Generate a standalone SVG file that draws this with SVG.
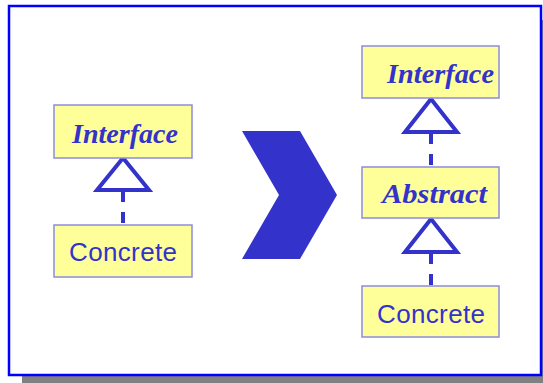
<svg xmlns="http://www.w3.org/2000/svg" width="543" height="383" viewBox="0 0 543 383">
  <style>
    .box { fill: #ffff99; stroke: #8c8ce0; stroke-width: 1.5; }
    .iface { font-family: "Liberation Serif", "Times New Roman", serif; font-weight: bold; font-style: italic; font-size: 28px; fill: #3333cc; }
    .plain { font-family: "Liberation Sans", Arial, sans-serif; font-size: 26px; fill: #3333cc; }
    .tri { fill: #ffffff; stroke: #3333cc; stroke-width: 4; stroke-linejoin: miter; }
    .dash { stroke: #3333cc; stroke-width: 4; stroke-dasharray: 11 10; fill: none; }
  </style>
  <rect x="0" y="0" width="543" height="383" fill="#ffffff"/>
  <!-- frame with drop shadow -->
  <rect x="22" y="20" width="532" height="368" fill="#808080"/>
  <rect x="9" y="6" width="532" height="369" fill="#ffffff" stroke="#0000ff" stroke-width="2.5"/>

  <!-- connectors -->
  <g id="connectors">
    <line class="dash" x1="123" y1="191" x2="123" y2="225"/>
    <polygon class="tri" points="123,158 97,190 149,190"/>
    <line class="dash" x1="431" y1="133" x2="431" y2="167"/>
    <polygon class="tri" points="431,99 405,132 457,132"/>
    <line class="dash" x1="431" y1="253" x2="431" y2="286"/>
    <polygon class="tri" points="431,219 405,252 457,252"/>
  </g>

  <!-- left: before -->
  <g id="left-interface">
    <rect class="box" x="54" y="105" width="138" height="53"/>
    <text class="iface" x="72" y="143" textLength="106" lengthAdjust="spacingAndGlyphs">Interface</text>
  </g>
  <g id="left-concrete">
    <rect class="box" x="54" y="225" width="138" height="52"/>
    <text class="plain" x="69" y="261" textLength="108" lengthAdjust="spacing">Concrete</text>
  </g>

  <!-- transformation chevron -->
  <g id="chevron">
    <polygon points="242,131 300,131 337,195 300,259 242,259 279,195" fill="#3333cc"/>
  </g>

  <!-- right: after -->
  <g id="right-interface">
    <rect class="box" x="362" y="46" width="137" height="52"/>
    <text class="iface" x="387" y="83" textLength="107" lengthAdjust="spacingAndGlyphs">Interface</text>
  </g>
  <g id="right-abstract">
    <rect class="box" x="362" y="167" width="137" height="51"/>
    <text class="iface" x="382" y="203" textLength="105" lengthAdjust="spacingAndGlyphs">Abstract</text>
  </g>
  <g id="right-concrete">
    <rect class="box" x="362" y="286" width="137" height="51"/>
    <text class="plain" x="377" y="323" textLength="108" lengthAdjust="spacing">Concrete</text>
  </g>
</svg>
